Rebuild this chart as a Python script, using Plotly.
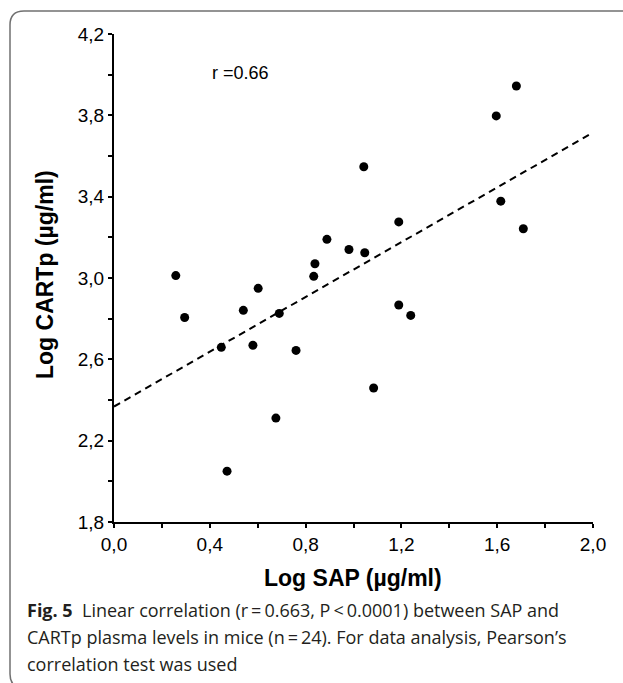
import plotly.graph_objects as go

# ---- data ----
log_sap = [0.258, 0.295, 0.448, 0.472, 0.540, 0.580, 0.602, 0.676, 0.690, 0.760,
           0.834, 0.839, 0.889, 0.981, 1.043, 1.047, 1.084, 1.189, 1.189, 1.239,
           1.596, 1.615, 1.680, 1.709]
log_cartp = [3.012, 2.806, 2.659, 2.050, 2.841, 2.669, 2.949, 2.311, 2.826, 2.644,
             3.008, 3.070, 3.190, 3.140, 3.547, 3.124, 2.459, 3.276, 2.867, 2.816,
             3.797, 3.378, 3.944, 3.242]
fit_x = [0.0, 2.0]
fit_y = [2.368, 3.715]

x_ticks = [0.0, 0.4, 0.8, 1.2, 1.6, 2.0]
x_ticklabels = ["0,0", "0,4", "0,8", "1,2", "1,6", "2,0"]
x_minor = [0.2, 0.6, 1.0, 1.4, 1.8]
y_ticks = [1.8, 2.2, 2.6, 3.0, 3.4, 3.8, 4.2]
y_ticklabels = ["1,8", "2,2", "2,6", "3,0", "3,4", "3,8", "4,2"]
y_minor = [2.0, 2.4, 2.8, 3.2, 3.6, 4.0]

r_label = "r =0.66"
x_title = "Log SAP (µg/ml)"
y_title = "Log CARTp (µg/ml)"
caption_lines = [
    "<b>Fig. 5</b>  Linear correlation (r\u2009=\u20090.663, P\u2009<\u20090.0001) between SAP and",
    "CARTp plasma levels in mice (n\u2009=\u200924). For data analysis, Pearson\u2019s",
    "correlation test was used",
]

# ---- layout geometry (pixels) ----
W, H = 623, 683
L, R, T, B = 114, 30, 34, 161
PW, PH = W - L - R, H - T - B


def px_x(p):
    return (p - L) / PW


def px_y(p):
    return (H - B - p) / PH


fig = go.Figure()
fig.add_trace(go.Scatter(x=fit_x, y=fit_y, mode="lines",
                         line=dict(color="black", width=2, dash="7px,5px"),
                         hoverinfo="skip", showlegend=False))
fig.add_trace(go.Scatter(x=log_sap, y=log_cartp, mode="markers",
                         marker=dict(color="black", size=9),
                         showlegend=False))

axis_font = dict(family="Liberation Sans, Arial, sans-serif", size=19, color="black")

fig.update_xaxes(range=[0, 2.0], showgrid=False, zeroline=False,
                 showline=True, linecolor="black", linewidth=2,
                 ticks="outside", ticklen=4, tickwidth=2, tickcolor="black",
                 tickvals=x_ticks, ticktext=x_ticklabels, tickfont=axis_font,
                 minor=dict(tickvals=x_minor, ticks="outside", ticklen=4,
                            tickwidth=2, tickcolor="black"))
fig.update_yaxes(range=[1.8, 4.2], showgrid=False, zeroline=False,
                 showline=True, linecolor="black", linewidth=2,
                 ticks="outside", ticklen=4, tickwidth=2, tickcolor="black",
                 tickvals=y_ticks, ticktext=y_ticklabels, tickfont=axis_font,
                 minor=dict(tickvals=y_minor, ticks="outside", ticklen=4,
                            tickwidth=2, tickcolor="black"))

title_font = dict(family="Liberation Sans, Arial, sans-serif", size=23, color="black")
annotations = [
    dict(x=0.40, y=4.01, xref="x", yref="y", text=r_label, showarrow=False,
         xanchor="left", yanchor="middle",
         font=dict(family="Liberation Sans, Arial, sans-serif", size=18, color="black")),
    dict(x=px_x(353), y=px_y(578), xref="paper", yref="paper", text="<b>" + x_title + "</b>",
         showarrow=False, xanchor="center", yanchor="middle", font=title_font),
    dict(x=px_x(45), y=px_y(275), xref="paper", yref="paper", text="<b>" + y_title + "</b>",
         showarrow=False, xanchor="center", yanchor="middle", textangle=-90, font=title_font),
]
cap_font = dict(family="Open Sans, Noto Sans, sans-serif", size=18, color="#231f20")
for i, line in enumerate(caption_lines):
    annotations.append(dict(x=px_x(25), y=px_y(610 + 27 * i), xref="paper", yref="paper",
                            text=line, showarrow=False, xanchor="left", yanchor="middle",
                            font=cap_font))

# rounded frame (left, top and bottom edges; it runs off the right of the page)
x0, y0, x1, y1, rr = 10, 11, 623, 688, 14
path = (f"M {px_x(x1)} {px_y(y0)} "
        f"L {px_x(x0 + rr)} {px_y(y0)} "
        f"Q {px_x(x0)} {px_y(y0)} {px_x(x0)} {px_y(y0 + rr)} "
        f"L {px_x(x0)} {px_y(y1 - rr)} "
        f"Q {px_x(x0)} {px_y(y1)} {px_x(x0 + rr)} {px_y(y1)} "
        f"L {px_x(x1)} {px_y(y1)}")

fig.update_layout(
    width=W, height=H,
    margin=dict(l=L, r=R, t=T, b=B),
    paper_bgcolor="white", plot_bgcolor="white",
    annotations=annotations,
    shapes=[dict(type="path", path=path, xref="paper", yref="paper",
                 line=dict(color="#707070", width=1.5), fillcolor="rgba(0,0,0,0)",
                 layer="below")],
    showlegend=False,
)

fig.write_html("out.html", config={"displayModeBar": False},
               post_script="document.body.style.margin='0px';document.body.style.overflow='hidden';")
